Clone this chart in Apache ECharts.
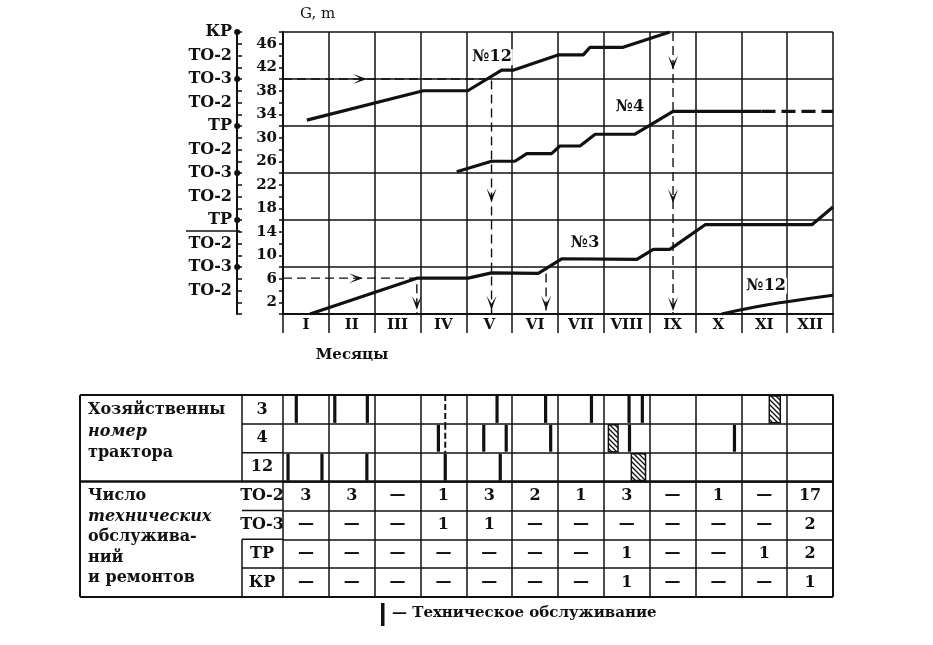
<!DOCTYPE html>
<html><head><meta charset="utf-8">
<script src="https://cdn.jsdelivr.net/npm/echarts@6/dist/echarts.min.js"></script>
<style>html,body{margin:0;padding:0;background:#fff}#c{width:933px;height:645px}</style>
</head><body><div id="c"></div><script>
// ---------- DATA ----------
const months = ['I','II','III','IV','V','VI','VII','VIII','IX','X','XI','XII'];
const maintLevels = ['ТО-2','ТО-3','ТО-2','ТР','ТО-2','ТО-3','ТО-2','ТР','ТО-2','ТО-3','ТО-2','КР']; // at G = 4, 8, ..., 48
const tractor12a = [[0.52,33.0],[3.06,38.0],[4.03,38.0],[4.77,41.5],[5.02,41.5],[6.0,44.1],[6.55,44.1],[6.7,45.4],[7.42,45.4],[8.44,48]];
const tractor4 = [[3.79,24.2],[4.55,26.0],[5.06,26.0],[5.32,27.3],[5.86,27.3],[6.04,28.6],[6.48,28.6],[6.81,30.6],[7.68,30.6],[8.51,34.5],[10.44,34.5]];
const tractor4Plan = [[10.44,34.5],[12,34.5]];
const tractor3 = [[0.59,0],[2.92,6.1],[4.04,6.1],[4.55,7.0],[5.57,6.9],[6.08,9.4],[7.72,9.3],[8.08,11.0],[8.44,11.0],[9.21,15.2],[11.54,15.2],[12,18.2]];
const tractor12b = [[9.57,0],[10.3,1.2],[11.0,2.1],[12,3.2]];
const guides = [
  [[0,40],[4.55,40],[4.55,0]],
  [[0,6.1],[2.92,6.1],[2.92,0]],
  [[5.74,6.9],[5.74,0]],
  [[8.51,48],[8.51,0]]
];
const arrowsRight = [[1.68,40],[1.59,6.1]];
const arrowsDown = [[2.92,1.9],[4.55,20.2],[4.55,1.9],[5.74,1.9],[8.51,42.8],[8.51,20.1],[8.51,1.7]];
const levelDots = [[-1,48],[-1,40],[-1,32],[-1,24],[-1,16],[-1,8]];
const seriesNames = [[4.56,43.7,'№12'],[7.57,35.2,'№4'],[6.59,12.1,'№3'],[10.54,4.8,'№12']];

const tableRows = ['3','4','12','ТО-2','ТО-3','ТР','КР'];
const marks3 = [0.29,1.13,1.84,4.67,5.73,6.73,7.55,7.84];
const marks4 = [3.39,4.38,4.87,5.84,7.56,9.85];
const marks12 = [0.11,0.85,1.83,3.54,4.74];
const repairs3 = [[10.61,10.85]];
const repairs4 = [[7.10,7.31]];
const repairs12 = [[7.60,7.91]];
const dashedMarks = [[3.54,0],[3.54,1]];
const to2Counts = [3,3,null,1,3,2,1,3,null,1,null,17];
const to3Counts = [null,null,null,1,1,null,null,null,null,null,null,2];
const trCounts  = [null,null,null,null,null,null,null,1,null,null,1,2];
const krCounts  = [null,null,null,null,null,null,null,1,null,null,null,1];

// ---------- BUILD ----------
const INK = '#111';
const FF = "'DejaVu Serif', serif";
const hatch = document.createElement('canvas');
hatch.width = 5; hatch.height = 5;
(function(){const c=hatch.getContext('2d');c.fillStyle='#fff';c.fillRect(0,0,5,5);c.strokeStyle=INK;c.lineWidth=1.3;
 c.beginPath();c.moveTo(-1,-1);c.lineTo(6,6);c.moveTo(-1,4);c.lineTo(1,6);c.moveTo(4,-1);c.lineTo(6,1);c.stroke();})();

const markData = [];
[marks3,marks4,marks12].forEach((arr,r)=>arr.forEach(x=>markData.push([x,r,0,0])));
[repairs3,repairs4,repairs12].forEach((arr,r)=>arr.forEach(s=>markData.push([s[0],r,1,s[1]])));
dashedMarks.forEach(d=>markData.push([d[0],d[1],2,0]));

const numData = [];
[to2Counts,to3Counts,trCounts,krCounts].forEach((arr,i)=>arr.forEach((v,m)=>numData.push([m+0.5,i+3,v==null?'—':String(v)])));

const lineBase = {type:'line', xAxisIndex:0, yAxisIndex:0, symbol:'none', silent:true, z:5};
const series = [
  Object.assign({}, lineBase, {data:tractor12a, lineStyle:{color:INK,width:3.2}}),
  Object.assign({}, lineBase, {data:tractor4, lineStyle:{color:INK,width:3.2}}),
  Object.assign({}, lineBase, {data:tractor4Plan, lineStyle:{color:INK,width:3.2,type:[14,6]}}),
  Object.assign({}, lineBase, {data:tractor3, lineStyle:{color:INK,width:3.2}}),
  Object.assign({}, lineBase, {data:tractor12b, smooth:true, lineStyle:{color:INK,width:3}}),
];
guides.forEach(g=>series.push(Object.assign({}, lineBase, {data:g, z:4, lineStyle:{color:INK,width:1.4,type:[9,5]}})));
series.push({type:'scatter', xAxisIndex:0, yAxisIndex:0, data:arrowsRight, symbol:'path://M0,0 L14,6 L0,12 L8,6 Z', symbolSize:[14,10], itemStyle:{color:INK, opacity:1}, silent:true, z:6});
series.push({type:'scatter', xAxisIndex:0, yAxisIndex:0, data:arrowsDown, symbol:'path://M0,0 L6,14 L12,0 L6,8 Z', symbolSize:[10,14], itemStyle:{color:INK, opacity:1}, silent:true, z:6});
series.push({type:'scatter', xAxisIndex:0, yAxisIndex:0, data:levelDots, clip:false, symbol:'circle', symbolSize:6, itemStyle:{color:INK, opacity:1}, silent:true, z:6});
series.push({type:'scatter', xAxisIndex:0, yAxisIndex:0, data:seriesNames, symbolSize:0, silent:true, z:7, itemStyle:{opacity:1},
  label:{show:true, position:'inside', formatter:p=>p.value[2], color:INK, opacity:1, fontFamily:FF, fontWeight:'bold', fontSize:16, backgroundColor:'#fff', padding:[0,1]}});
series.push({type:'custom', xAxisIndex:2, yAxisIndex:3, data:markData, silent:true, z:5,
  renderItem:function(params, api){
    const x=api.value(0), r=api.value(1), t=api.value(2), x2=api.value(3);
    const p=api.coord([x,r]); const h=api.size([0,1])[1]; const top=p[1]-h/2;
    if(t===0) return {type:'rect', shape:{x:p[0]-1.6,y:top+1,width:3.2,height:h-2}, style:{fill:INK}};
    if(t===1){const p2=api.coord([x2,r]); return {type:'rect', shape:{x:p[0],y:top+1,width:p2[0]-p[0],height:h-2}, style:{fill:{image:hatch,repeat:'repeat'}, stroke:INK, lineWidth:1.5}};}
    return {type:'line', shape:{x1:p[0],y1:top,x2:p[0],y2:top+h}, style:{stroke:INK,lineWidth:2,lineDash:[6,3]}};
  }});
series.push({type:'custom', xAxisIndex:2, yAxisIndex:3, data:numData, silent:true, z:6,
  renderItem:function(params, api){
    const p=api.coord([api.value(0), api.value(1)]);
    return {type:'text', style:{text:numData[params.dataIndex][2], x:p[0], y:p[1], align:'center', verticalAlign:'middle', fill:INK, font:"bold 16px 'DejaVu Serif', serif"}};
  }});

const txt = (x,y,text,opts)=>Object.assign({type:'text', x:x, y:y, silent:true, style:Object.assign({text:text, fill:INK, font:"bold 16px 'DejaVu Serif', serif", verticalAlign:'middle'}, opts||{})});
const ln = (x1,y1,x2,y2,w)=>({type:'line', silent:true, shape:{x1,y1,x2,y2}, style:{stroke:INK, lineWidth:w||1.5}});

const option = {
  backgroundColor:'#fff',
  animation:false,
  grid:[
    {left:283, top:32, width:550, height:282, outerBoundsMode:'none'},
    {left:283, top:395, width:550, height:202, outerBoundsMode:'none'}
  ],
  xAxis:[
    {gridIndex:0, type:'value', min:0, max:12, interval:1, position:'bottom',
     axisLine:{show:true, lineStyle:{color:INK,width:2}}, axisTick:{show:false}, axisLabel:{show:false},
     splitLine:{show:true, lineStyle:{color:INK,width:1.5}}},
    {gridIndex:0, type:'category', data:months, position:'bottom', boundaryGap:true,
     axisLine:{show:false}, axisTick:{show:true, length:19, interval:0, lineStyle:{color:INK,width:1.5}},
     axisLabel:{margin:4, interval:0, color:INK, fontFamily:FF, fontWeight:'bold', fontSize:15}, splitLine:{show:false}},
    {gridIndex:1, type:'value', min:0, max:12, interval:1, position:'top',
     axisLine:{show:true, lineStyle:{color:INK,width:1.5}}, axisTick:{show:false}, axisLabel:{show:false},
     splitLine:{show:true, lineStyle:{color:INK,width:1.5}}}
  ],
  yAxis:[
    {gridIndex:0, type:'value', min:0, max:48, interval:2, position:'left',
     axisLine:{show:true, lineStyle:{color:INK,width:2}}, axisTick:{show:true, inside:false, length:4, lineStyle:{color:INK,width:1.5}},
     axisLabel:{margin:6, color:INK, fontFamily:FF, fontWeight:'bold', fontSize:15, formatter:v=>((v-2)%4===0?String(v):'')},
     splitLine:{show:false}},
    {gridIndex:0, type:'value', min:0, max:48, interval:8, position:'left',
     axisLine:{show:false}, axisTick:{show:false}, axisLabel:{show:false},
     splitLine:{show:true, lineStyle:{color:INK,width:1.5}}},
    {gridIndex:0, type:'value', min:0, max:48, interval:2, position:'left', offset:46,
     axisLine:{show:true, lineStyle:{color:INK,width:2}}, axisTick:{show:true, inside:true, length:5, lineStyle:{color:INK,width:1.5}},
     axisLabel:{margin:5, color:INK, fontFamily:FF, fontWeight:'bold', fontSize:16, formatter:v=>(v>0&&v%4===0?maintLevels[v/4-1]:'')},
     splitLine:{show:false}},
    {gridIndex:1, type:'category', data:tableRows, inverse:true, position:'left', boundaryGap:true,
     axisLine:{show:false}, axisTick:{show:false},
     axisLabel:{align:'center', margin:21, interval:0, color:INK, fontFamily:FF, fontWeight:'bold', fontSize:16},
     splitLine:{show:true, interval:0, lineStyle:{color:INK,width:1.5}}}
  ],
  series:series,
  graphic:[
    txt(300,14,'G, m',{font:"15px 'DejaVu Serif', serif"}),
    txt(352,355,'Месяцы',{align:'center', font:"bold 15px 'DejaVu Serif', serif"}),
    ln(186,231,240,231,1.5),
    // table frame
    ln(80,395,833,395,2), ln(80,597,833,597,2), ln(80,395,80,597,2), ln(833,395,833,597,2),
    ln(80,481.5,833,481.5,2.5),
    ln(242,395,242,481.5,1.5), ln(242,539.3,242,597,1.5),
    ln(242,423.9,283,423.9,1.5), ln(242,452.7,283,452.7,1.5),
    ln(242,510.4,283,510.4,1.5), ln(242,539.3,283,539.3,1.5), ln(242,568.1,283,568.1,1.5),
    txt(88,410,'Хозяйственны'),
    txt(88,432,'номер',{font:"italic bold 16px 'DejaVu Serif', serif"}),
    txt(88,453,'трактора'),
    txt(88,496,'Число'),
    txt(88,517,'технических',{font:"italic bold 16px 'DejaVu Serif', serif"}),
    txt(88,537,'обслужива-'),
    txt(88,558,'ний'),
    txt(88,578,'и ремонтов'),
    {type:'rect', silent:true, shape:{x:381,y:603,width:3.5,height:23}, style:{fill:INK}},
    txt(392,613,'— Техническое обслуживание',{font:"bold 15px 'DejaVu Serif', serif"})
  ]
};
const chart = echarts.init(document.getElementById('c'), null, {renderer:'canvas'});
chart.setOption(option);
</script></body></html>
